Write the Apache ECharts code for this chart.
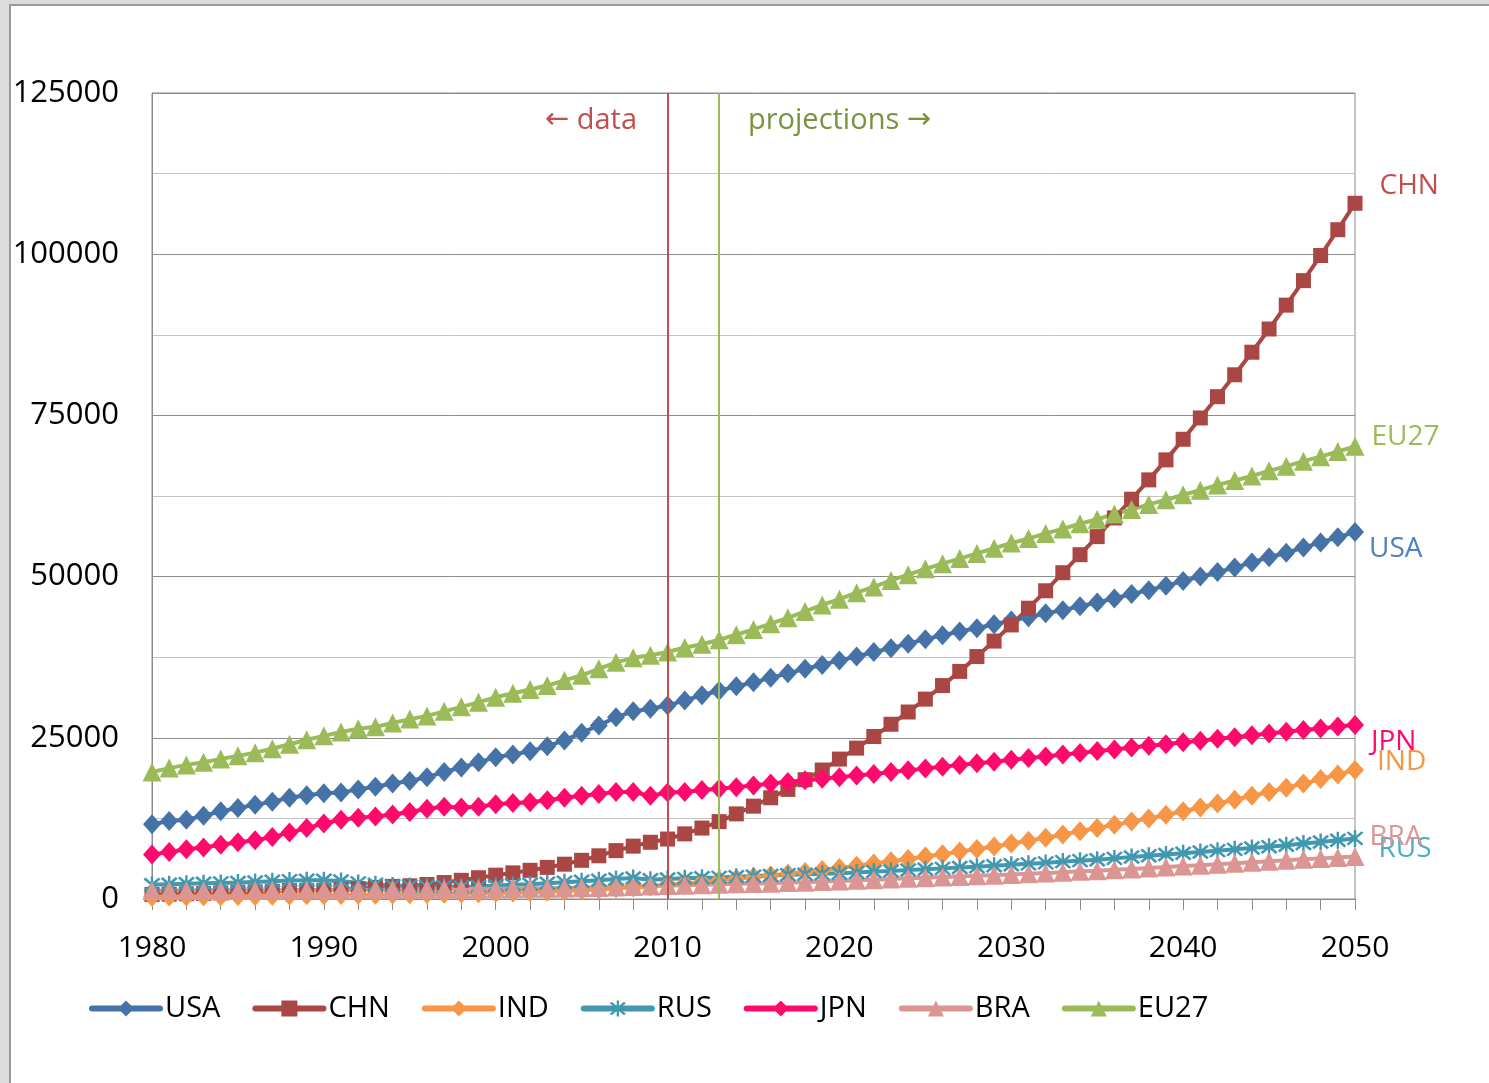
<!DOCTYPE html>
<html>
<head>
<meta charset="utf-8">
<title>GDP projections</title>
<script src="https://cdn.jsdelivr.net/npm/echarts@6/dist/echarts.min.js"></script>
<style>
  html, body { margin: 0; padding: 0; background: #fff; }
  #main { width: 1489px; height: 1083px; }
</style>
</head>
<body>
<div id="main"></div>
<script>
// years 1980..2050
const years = []
for (let y = 1980; y <= 2050; y++) years.push(y)

const usa = [
  11600, 12100, 12300, 12900, 13600, 14100, 14600, 15100, 15700, 16100,
  16400, 16500, 17000, 17400, 17900, 18300, 18900, 19700, 20400, 21200,
  22000, 22400, 22900, 23700, 24600, 25800, 26900, 28200, 29100, 29500,
  30000, 30800, 31600, 32300, 33000, 33600, 34300, 35000, 35700, 36300,
  37000, 37600, 38300, 38900, 39600, 40300, 40900, 41500, 42000, 42600,
  43200, 43700, 44300, 44800, 45400, 46000, 46600, 47300, 47900, 48600,
  49300, 50000, 50700, 51400, 52200, 53000, 53700, 54500, 55300, 56100,
  56900
]
const chn = [
  700, 750, 800, 850, 950, 1050, 1100, 1200, 1300, 1300,
  1350, 1450, 1600, 1800, 1950, 2050, 2250, 2550, 2900, 3300,
  3700, 4050, 4450, 4900, 5400, 6000, 6700, 7500, 8200, 8800,
  9300, 10100, 11000, 12000, 13200, 14400, 15700, 17000, 18500, 20000,
  21700, 23400, 25200, 27100, 29000, 31000, 33100, 35300, 37600, 40000,
  42500, 45100, 47800, 50600, 53400, 56200, 59100, 62000, 65000, 68100,
  71300, 74600, 77900, 81300, 84800, 88400, 92100, 95900, 99800, 103800,
  107900
]
const ind = [
  350, 370, 390, 410, 430, 450, 480, 510, 540, 570,
  600, 620, 640, 670, 710, 750, 790, 820, 850, 900,
  950, 1000, 1050, 1120, 1230, 1350, 1480, 1650, 1800, 1950,
  2200, 2400, 2650, 2900, 3150, 3400, 3650, 3900, 4200, 4500,
  4800, 5150, 5500, 5850, 6200, 6600, 6950, 7350, 7750, 8150,
  8600, 9050, 9500, 10000, 10500, 11000, 11500, 12000, 12500, 13050,
  13600, 14200, 14800, 15400, 16000, 16600, 17250, 17900, 18600, 19300,
  20000
]
const rus = [
  2200, 2300, 2350, 2450, 2500, 2550, 2650, 2750, 2850, 2900,
  2900, 2800, 2500, 2300, 2100, 2000, 1950, 1950, 1850, 1950,
  2100, 2200, 2300, 2450, 2600, 2750, 2900, 3100, 3250, 3000,
  3100, 3200, 3300, 3350, 3450, 3550, 3650, 3750, 3850, 3900,
  4000, 4100, 4250, 4350, 4500, 4600, 4750, 4900, 5000, 5150,
  5300, 5450, 5600, 5800, 5950, 6100, 6300, 6500, 6700, 6900,
  7100, 7300, 7500, 7700, 7900, 8100, 8350, 8600, 8850, 9100,
  9400
]
const jpn = [
  6900, 7300, 7700, 8000, 8400, 8800, 9100, 9600, 10300, 11000,
  11700, 12300, 12600, 12800, 13100, 13500, 14000, 14300, 14200, 14300,
  14700, 14900, 15000, 15300, 15700, 16000, 16300, 16600, 16600, 16000,
  16500, 16600, 16900, 17100, 17350, 17600, 17900, 18150, 18400, 18650,
  18900, 19150, 19400, 19700, 19950, 20250, 20500, 20800, 21050, 21300,
  21600, 21850, 22100, 22400, 22650, 22950, 23200, 23500, 23750, 24000,
  24300, 24550, 24850, 25100, 25400, 25650, 25950, 26200, 26450, 26750,
  27000
]
const bra = [
  1300, 1300, 1280, 1270, 1280, 1300, 1320, 1340, 1350, 1380,
  1400, 1410, 1420, 1450, 1480, 1500, 1520, 1540, 1550, 1570,
  1600, 1620, 1650, 1680, 1720, 1750, 1800, 1880, 1950, 2000,
  2100, 2150, 2200, 2300, 2350, 2400, 2450, 2550, 2600, 2700,
  2800, 2900, 3000, 3100, 3200, 3300, 3400, 3500, 3600, 3700,
  3800, 3900, 4050, 4150, 4300, 4400, 4550, 4650, 4800, 4950,
  5100, 5250, 5400, 5550, 5700, 5850, 6000, 6150, 6300, 6450,
  6600
]
const eu27 = [
  19700, 20300, 20800, 21200, 21700, 22200, 22700, 23300, 24000, 24700,
  25300, 25900, 26400, 26700, 27300, 27900, 28400, 29100, 29800, 30500,
  31300, 31900, 32500, 33100, 33900, 34700, 35700, 36700, 37400, 37800,
  38300, 39000, 39500, 40200, 41000, 41800, 42700, 43600, 44600, 45600,
  46500, 47500, 48400, 49400, 50300, 51200, 52000, 52800, 53600, 54400,
  55200, 55900, 56700, 57400, 58200, 58900, 59700, 60400, 61200, 61900,
  62700, 63400, 64200, 64900, 65600, 66400, 67100, 67900, 68600, 69400,
  70200
]

const names = ['USA', 'CHN', 'IND', 'RUS', 'JPN', 'BRA', 'EU27']
const values = [usa, chn, ind, rus, jpn, bra, eu27]
const lineColors = ['#4572A7', '#AA4643', '#F79646', '#4198AF', '#FF0A6C', '#DB9694', '#9BBB59']
const labelColors = ['#4F81BD', '#C0504D', '#F79646', '#4BACC6', '#FF0A6C', '#D99694', '#9BBB59']
const symbols = ['diamond', 'rect', 'diamond',
  'path://M-1.2,-10L1.2,-10L1.2,10L-1.2,10Z M-8.5,-6.5L-6.5,-8.5L8.5,6.5L6.5,8.5Z M6.5,-8.5L8.5,-6.5L-6.5,8.5L-8.5,6.5Z',
  'diamond', 'triangle', 'triangle']
const symbolSizes = [[18, 20], 15, [18, 20], 17, [18, 20], 19, 19]
// label offsets at the 2050 point
const labelOffsets = [[0, 17], [12, -17], [8, -8], [10, 11], [2, 17], [0, -19], [2, -9]]

let font = '"Open Sans", "Noto Sans", sans-serif'

let mychart = echarts.init(document.getElementById('main'))

let series = names.map(function (name, k) {
  let data = years.map(function (y, i) {
    if (i === years.length - 1) {
      return {
        value: [y, values[k][i]],
        label: {
          show: true,
          position: 'right',
          offset: labelOffsets[k],
          formatter: name,
          color: labelColors[k],
          fontFamily: font,
          fontSize: 28
        }
      }
    }
    return [y, values[k][i]]
  })
  return {
    name: name,
    type: 'line',
    data: data,
    symbol: symbols[k],
    symbolSize: symbolSizes[k],
    showAllSymbol: true,
    itemStyle: { color: lineColors[k] },
    lineStyle: { color: lineColors[k], width: 4 },
    emphasis: { disabled: true },
    animation: false
  }
})

// vertical separators data / projections
series.push({
  name: 'sep',
  type: 'line',
  data: [],
  z: 5,
  markLine: {
    silent: true,
    symbol: 'none',
    label: { show: false },
    animation: false,
    data: [
      { xAxis: 2010, lineStyle: { color: '#C0504D', width: 2, type: 'solid' } },
      { xAxis: 2013, lineStyle: { color: '#9BBB59', width: 2, type: 'solid' } }
    ]
  }
})

let option = {
  backgroundColor: '#fff',
  animation: false,
  grid: {
    left: 152,
    right: 134,
    top: 93,
    bottom: 184,
    show: true,
    borderColor: '#8c8c8c',
    borderWidth: 1
  },
  legend: {
    data: names,
    left: 84,
    top: 989,
    itemWidth: 68,
    itemHeight: 20,
    itemGap: 32,
    lineStyle: { width: 6, cap: 'round' },
    textStyle: { fontFamily: font, fontSize: 29, color: '#000' }
  },
  xAxis: {
    type: 'value',
    min: 1980,
    max: 2050,
    interval: 2,
    axisLine: { lineStyle: { color: '#8c8c8c' } },
    axisTick: { show: true, inside: false, length: 11, lineStyle: { color: '#8c8c8c' } },
    splitLine: { show: false },
    axisLabel: {
      margin: 34,
      fontFamily: font,
      fontSize: 30,
      color: '#000',
      showMinLabel: true,
      showMaxLabel: true,
      formatter: function (v) { return v % 10 === 0 ? String(v) : '' }
    }
  },
  yAxis: {
    type: 'value',
    min: 0,
    max: 125000,
    interval: 25000,
    axisLine: { show: true, lineStyle: { color: '#8c8c8c' } },
    axisTick: { show: false },
    splitLine: { lineStyle: { color: '#8c8c8c', width: 1 } },
    minorTick: { show: false, splitNumber: 2 },
    minorSplitLine: { show: true, lineStyle: { color: '#c4c4c4', width: 1 } },
    axisLabel: {
      margin: 33,
      fontFamily: font,
      fontSize: 31,
      color: '#000',
      formatter: function (v) { return String(v) }
    }
  },
  graphic: [
    // grey page edge, left and top
    { type: 'rect', left: 0, top: 0, z: 100, shape: { width: 9, height: 1083 }, style: { fill: '#dcdcdc' } },
    { type: 'rect', left: 0, top: 0, z: 100, shape: { width: 1489, height: 4 }, style: { fill: '#dcdcdc' } },
    { type: 'rect', left: 9, top: 4, z: 100, shape: { width: 2, height: 1079 }, style: { fill: '#9a9a9a' } },
    { type: 'rect', left: 9, top: 4, z: 100, shape: { width: 1480, height: 2 }, style: { fill: '#9a9a9a' } },
    {
      type: 'text',
      right: 1489 - 637,
      top: 106,
      style: {
        text: '{a|\u2190} data',
        fill: '#C0504D',
        font: '29px ' + font,
        rich: { a: { fontFamily: 'DejaVu Sans', fontSize: 29, fill: '#C0504D' } }
      }
    },
    {
      type: 'text',
      left: 748,
      top: 106,
      style: {
        text: 'projections {a|\u2192}',
        fill: '#77933C',
        font: '29px ' + font,
        rich: { a: { fontFamily: 'DejaVu Sans', fontSize: 29, fill: '#77933C' } }
      }
    }
  ],
  series: series
}
mychart.setOption(option)
window.addEventListener('resize', function () {
  mychart.resize()
})
</script>
</body>
</html>
